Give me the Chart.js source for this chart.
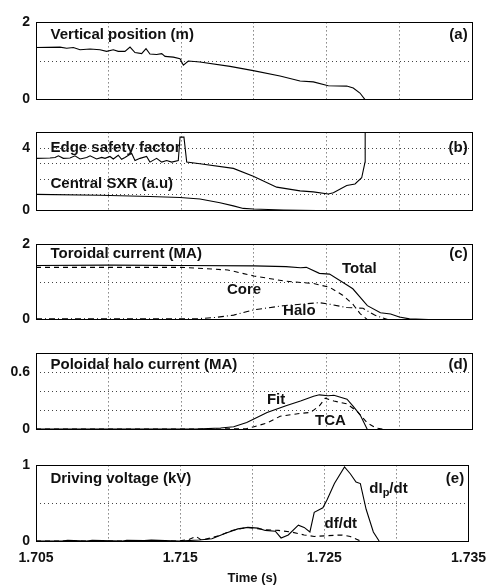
<!DOCTYPE html>
<html>
<head>
<meta charset="utf-8">
<script src="https://cdn.jsdelivr.net/npm/chart.js@4"></script>
<style>
  body { margin: 0; background: #fff; width: 495px; height: 586px; position: relative; overflow: hidden; }
  .panel { position: absolute; left: 0; width: 495px; }
</style>
</head>
<body>
<div class="panel" style="top:8px;height:106px"><canvas id="chartA"></canvas></div>
<div class="panel" style="top:118px;height:107px"><canvas id="chartB"></canvas></div>
<div class="panel" style="top:230px;height:104px"><canvas id="chartC"></canvas></div>
<div class="panel" style="top:339px;height:105px"><canvas id="chartD"></canvas></div>
<div class="panel" style="top:451px;height:135px"><canvas id="chartE"></canvas></div>
<script>
// time axis
const xTicks = [1.705, 1.71, 1.715, 1.72, 1.725, 1.73, 1.735];
const xLabels = [1.705, 1.715, 1.725, 1.735];

// (a) vertical position (m)
const tPos = [1.705, 1.70665, 1.70711, 1.70757, 1.70803, 1.70872, 1.7094, 1.70986, 1.71032, 1.71066, 1.71112, 1.71147,
  1.71181, 1.71227, 1.71257, 1.71284, 1.7133, 1.71365, 1.71388, 1.71445, 1.71491, 1.71514, 1.71548, 1.71628,
  1.71835, 1.71995, 1.72179, 1.72317, 1.72408, 1.72511, 1.72638, 1.72683, 1.72729, 1.72764];
const vPos = [1.35, 1.36, 1.33, 1.35, 1.29, 1.31, 1.29, 1.25, 1.29, 1.25, 1.25, 1.36,
  1.22, 1.19, 1.32, 1.18, 1.17, 1.19, 1.12, 1.1, 1.06, 0.89, 1.0, 0.975,
  0.86, 0.75, 0.61, 0.48, 0.46, 0.36, 0.35, 0.3, 0.17, 0];

// (b) edge safety factor, central SXR
const tQ = [1.705, 1.70596, 1.70631, 1.70654, 1.70688, 1.70734, 1.70768, 1.70803, 1.70849, 1.70872, 1.70917, 1.70952,
  1.70975, 1.71009, 1.71032, 1.71066, 1.71089, 1.71112, 1.71158, 1.71181, 1.71216, 1.71261, 1.71284, 1.7133,
  1.71365, 1.71399, 1.71434, 1.71479, 1.71491, 1.71518, 1.71537, 1.71628, 1.71858, 1.71995, 1.72156, 1.72317,
  1.72408, 1.72511, 1.72546, 1.72638, 1.72695, 1.72741, 1.72764, 1.72765];
const vQ = [3.34, 3.36, 3.4, 3.5, 3.34, 3.36, 3.5, 3.3, 3.4, 3.5, 3.3, 3.4,
  3.34, 3.46, 3.3, 3.54, 3.28, 3.4, 3.66, 3.2, 3.34, 3.46, 3.1, 3.34,
  3.1, 3.2, 3.1, 3.2, 4.7, 4.7, 3.1, 3.0, 2.7, 2.2, 1.5, 1.26,
  1.2, 1.06, 1.14, 1.6, 1.7, 2.1, 3.1, 5.0];
const tSxr = [1.705, 1.7094, 1.71284, 1.71491, 1.71628, 1.71766, 1.71858, 1.71926, 1.71995, 1.72202, 1.72431, 1.72511];
const vSxr = [1.04, 0.98, 0.9, 0.84, 0.74, 0.5, 0.3, 0.14, 0.1, 0.04, 0.0, 0.0];

// (c) toroidal current (MA)
const tTotal = [1.705, 1.71, 1.715, 1.72, 1.7222, 1.7232, 1.7236, 1.7245, 1.7252, 1.7264, 1.7268, 1.7278,
  1.7287, 1.7294, 1.73, 1.7307, 1.732, 1.735];
const vTotal = [1.44, 1.45, 1.44, 1.43, 1.41, 1.38, 1.39, 1.23, 1.21, 0.92, 0.82, 0.37,
  0.18, 0.15, 0.07, 0.02, 0.0, 0.0];
const tCore = [1.705, 1.715, 1.7182, 1.72, 1.7222, 1.7241, 1.7252, 1.7261, 1.7268, 1.7273, 1.7278];
const vCore = [1.39, 1.39, 1.32, 1.16, 1.02, 0.96, 0.86, 0.65, 0.41, 0.16, 0];
const tHalo = [1.705, 1.71, 1.716, 1.7174, 1.7186, 1.72, 1.722, 1.7232, 1.7245, 1.7252, 1.7264, 1.7275, 1.7283, 1.7292];
const vHalo = [0.02, 0.02, 0.02, 0.06, 0.12, 0.26, 0.37, 0.41, 0.45, 0.41, 0.32, 0.3, 0.12, 0.0];

// (d) poloidal halo current (MA)
const tFit = [1.705, 1.716, 1.7177, 1.7186, 1.7195, 1.7209, 1.7222, 1.7232, 1.7241, 1.7245, 1.7251, 1.7255,
  1.7264, 1.7268, 1.7273, 1.7278];
const vFit = [0.005, 0.005, 0.016, 0.03, 0.074, 0.18, 0.25, 0.3, 0.35, 0.365, 0.355, 0.36,
  0.32, 0.25, 0.155, 0];
const tTca = [1.705, 1.7165, 1.7195, 1.72, 1.7209, 1.7218, 1.7232, 1.7239, 1.7245, 1.7249, 1.7255, 1.7264,
  1.7271, 1.7278, 1.7284, 1.7291];
const vTca = [0.005, 0.005, 0.01, 0.03, 0.07, 0.14, 0.17, 0.18, 0.25, 0.33, 0.3, 0.27,
  0.19, 0.07, 0.016, 0];

// (e) driving voltage (kV)
const tDip = [1.705, 1.7068, 1.7072, 1.7085, 1.7089, 1.711, 1.7113, 1.7125, 1.713, 1.7149, 1.7163, 1.7172,
  1.7181, 1.719, 1.7197, 1.7204, 1.7209, 1.7216, 1.722, 1.7225, 1.7232, 1.7236, 1.724, 1.7243,
  1.7249, 1.7252, 1.7257, 1.7264, 1.7268, 1.7272, 1.7275, 1.7279, 1.7284, 1.7288];
const vDip = [0, 0, 0.01, 0, 0.01, 0, 0.01, 0.005, 0.012, 0, 0.013, 0.03,
  0.1, 0.16, 0.18, 0.17, 0.14, 0.13, 0.04, 0.08, 0.21, 0.18, 0.12, 0.38,
  0.44, 0.55, 0.76, 0.98, 0.89, 0.78, 0.76, 0.42, 0.12, 0];
const tDf = [1.705, 1.7149, 1.7156, 1.7161, 1.7165, 1.7177, 1.7186, 1.7197, 1.7209, 1.7218, 1.7227, 1.7236,
  1.7243, 1.7252, 1.7262, 1.7268, 1.7275];
const vDf = [0, 0, 0.02, 0.06, 0.01, 0.07, 0.14, 0.18, 0.15, 0.14, 0.12, 0.08,
  0.06, 0.07, 0.08, 0.06, 0];

const FONT = '"Liberation Sans", Arial, sans-serif';
const INK = '#000';

function pts(xs, ys) {
  return xs.map((x, i) => ({ x: x, y: ys[i] }));
}

function line(xs, ys, dash) {
  return {
    data: pts(xs, ys),
    borderColor: INK,
    borderWidth: 1.1,
    borderDash: dash || [],
    pointRadius: 0,
    tension: 0,
    fill: false
  };
}

const near = (a, b) => Math.abs(a - b) < 1e-6;

// box + text labels drawn on top of each panel
const notesPlugin = {
  id: 'notes',
  afterDraw(chart, args, opts) {
    const { ctx, chartArea: a, scales } = chart;
    ctx.save();
    ctx.strokeStyle = INK;
    ctx.lineWidth = 1;
    ctx.strokeRect(Math.round(a.left) + 0.5, Math.round(a.top) + 0.5,
      Math.round(a.right - a.left), Math.round(a.bottom - a.top));
    ctx.fillStyle = '#111';
    ctx.textBaseline = 'middle';
    (opts.items || []).forEach(it => {
      const px = scales.x.getPixelForValue(it.x);
      const py = scales.y.getPixelForValue(it.y);
      ctx.font = 'bold 15px ' + FONT;
      ctx.textAlign = it.align || 'left';
      ctx.fillText(it.text, px, py);
      if (it.sub) {
        let cx = px + ctx.measureText(it.text).width;
        ctx.font = 'bold 11px ' + FONT;
        ctx.fillText(it.sub, cx, py + 4);
        cx += ctx.measureText(it.sub).width;
        ctx.font = 'bold 15px ' + FONT;
        ctx.fillText(it.after, cx, py);
      }
    });
    ctx.restore();
  }
};

function makeChart(id, datasets, yMin, yMax, yTicks, yLabels, notes, bottomAxis) {
  const gridColor = (lo, hi) => c =>
    (c.tick && (near(c.tick.value, lo) || near(c.tick.value, hi))) ? 'rgba(0,0,0,0)' : '#444';
  return new Chart(document.getElementById(id), {
    type: 'line',
    data: { datasets: datasets },
    plugins: [notesPlugin],
    options: {
      responsive: true,
      maintainAspectRatio: false,
      animation: false,
      layout: { padding: { top: 12, bottom: bottomAxis ? 0 : 12, left: 0, right: 23 } },
      plugins: {
        legend: { display: false },
        tooltip: { enabled: false },
        notes: { items: notes }
      },
      scales: {
        x: {
          type: 'linear',
          min: 1.705,
          max: 1.735,
          afterBuildTicks: s => { s.ticks = xTicks.map(v => ({ value: v })); },
          afterFit: s => { s.height = bottomAxis ? 45 : 0; },
          grid: { color: gridColor(1.705, 1.735), lineWidth: 1, drawTicks: false },
          border: { display: false, dash: [1, 3] },
          ticks: {
            display: !!bottomAxis,
            autoSkip: false,
            maxRotation: 0,
            padding: 9,
            color: '#111',
            font: { family: FONT, size: 14, weight: 'bold' },
            callback: v => xLabels.some(l => near(l, v)) ? v.toFixed(3) : ''
          },
          title: {
            display: !!bottomAxis,
            text: 'Time (s)',
            color: '#111',
            padding: { top: 0, bottom: 0 },
            font: { family: FONT, size: 13, weight: 'bold' }
          }
        },
        y: {
          min: yMin,
          max: yMax,
          afterBuildTicks: s => { s.ticks = yTicks.map(v => ({ value: v })); },
          afterFit: s => { s.width = 36; },
          grid: { color: gridColor(yMin, yMax), lineWidth: 1, drawTicks: false },
          border: { display: false, dash: [1, 3] },
          ticks: {
            autoSkip: false,
            padding: 6,
            color: '#111',
            font: { family: FONT, size: 14, weight: 'bold' },
            callback: v => yLabels.some(l => near(l, v)) ? String(v) : ''
          }
        }
      }
    }
  });
}

makeChart('chartA', [line(tPos, vPos)], 0, 2, [0, 1, 2], [0, 2], [
  { text: 'Vertical position (m)', x: 1.706, y: 1.68 },
  { text: '(a)', x: 1.7347, y: 1.68, align: 'right' }
]);

makeChart('chartB', [line(tQ, vQ), line(tSxr, vSxr)], 0, 5, [0, 1, 2, 3, 4, 5], [0, 4], [
  { text: 'Edge safety factor', x: 1.706, y: 4.04 },
  { text: 'Central SXR (a.u)', x: 1.706, y: 1.69 },
  { text: '(b)', x: 1.7347, y: 4.04, align: 'right' }
]);

makeChart('chartC', [line(tTotal, vTotal), line(tCore, vCore, [5, 4]), line(tHalo, vHalo, [6, 3, 1, 3])],
  0, 2, [0, 1, 2], [0, 2], [
  { text: 'Toroidal current (MA)', x: 1.706, y: 1.75 },
  { text: 'Total', x: 1.72606, y: 1.35 },
  { text: 'Core', x: 1.71814, y: 0.78 },
  { text: 'Halo', x: 1.722, y: 0.22 },
  { text: '(c)', x: 1.7347, y: 1.75, align: 'right' }
]);

makeChart('chartD', [line(tFit, vFit), line(tTca, vTca, [5, 4])], 0, 0.8, [0, 0.2, 0.4, 0.6, 0.8], [0, 0.6], [
  { text: 'Poloidal halo current (MA)', x: 1.706, y: 0.68 },
  { text: 'Fit', x: 1.72089, y: 0.316 },
  { text: 'TCA', x: 1.7242, y: 0.09 },
  { text: '(d)', x: 1.7347, y: 0.68, align: 'right' }
]);

makeChart('chartE', [line(tDip, vDip), line(tDf, vDf, [5, 4])], 0, 1, [0, 0.5, 1], [0, 1], [
  { text: 'Driving voltage (kV)', x: 1.706, y: 0.82 },
  { text: 'dI', sub: 'p', after: '/dt', x: 1.72812, y: 0.69 },
  { text: 'df/dt', x: 1.72502, y: 0.23 },
  { text: '(e)', x: 1.7347, y: 0.82, align: 'right' }
], true);
</script>
</body>
</html>
